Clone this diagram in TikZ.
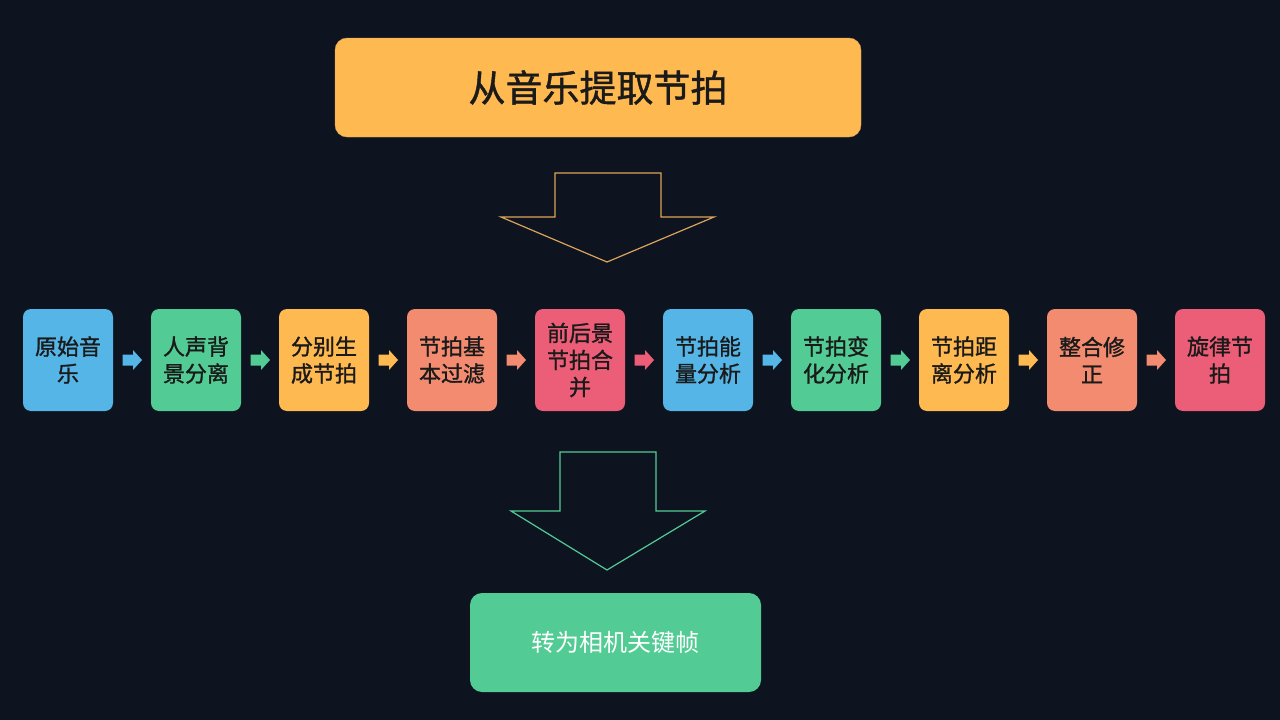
\documentclass[tikz,border=0pt]{standalone}
\usepackage{fontspec}
\setmainfont{Noto Sans CJK SC}
\newfontfamily\medfont[FakeBold=1.2]{Noto Sans CJK SC}
\usetikzlibrary{calc}
\definecolor{bgdark}{HTML}{0E1320}
\definecolor{cblue}{HTML}{54B5E6}
\definecolor{cgreen}{HTML}{52CC94}
\definecolor{corange}{HTML}{FFB951}
\definecolor{csalmon}{HTML}{F28B70}
\definecolor{cred}{HTML}{EC5D77}
\definecolor{goldline}{HTML}{DCA35A}
\definecolor{txtdark}{HTML}{1A1A1A}

\begin{document}
\begin{tikzpicture}[x=1pt, y=-1pt,
    stepbox/.style={rounded corners=8pt, minimum width=90pt, minimum height=102pt,
      inner sep=0pt, align=center, text=txtdark,
      font=\fontsize{22}{27}\medfont},
    smallarrow/.style={fill=#1}]
	    % background
	    \fill[bgdark] (0,0) rectangle (1280,720);
	    \useasboundingbox (0,0) rectangle (1280,720);

	    % title box
	    \node[fill=corange, draw=goldline, rounded corners=12pt, minimum width=526pt,
	      minimum height=99pt, text=txtdark, font=\fontsize{37}{40}\medfont]
	      (title) at (598,87.5) {从音乐提取节拍};

	    % big outline arrow under the title
	    \draw[goldline, line width=1.2pt] (555,173) -- (661,173) -- (661,217) -- (714,217)
	      -- (607,262) -- (501,217) -- (555,217) -- cycle;

	    % row of steps
	    \foreach \i/\c/\t in {1/cblue/原始音\\乐, 2/cgreen/人声背\\景分离, 3/corange/分别生\\成节拍,
	      4/csalmon/节拍基\\本过滤, 5/cred/前后景\\节拍合\\并, 6/cblue/节拍能\\量分析,
	      7/cgreen/节拍变\\化分析, 8/corange/节拍距\\离分析, 9/csalmon/整合修\\正, 10/cred/旋律节\\拍}
	      \node[stepbox, fill=\c] (s\i) at (68+128*\i-128,360) {\t};

	    % small arrows between steps
	    \foreach \i/\c in {1/cblue, 2/cgreen, 3/corange, 4/csalmon, 5/cred,
	      6/cblue, 7/cgreen, 8/corange, 9/csalmon}
	    {\pgfmathtruncatemacro{\j}{\i+1}
	      \coordinate (m\i) at ($(s\i.east)!0.5!(s\j.west)$);
	      \fill[smallarrow=\c] ($(m\i)+(-9.5,-5.5)$) -- ($(m\i)+(1,-5.5)$) -- ($(m\i)+(1,-10)$)
	        -- ($(m\i)+(10,0)$) -- ($(m\i)+(1,10)$) -- ($(m\i)+(1,5.5)$) -- ($(m\i)+(-9.5,5.5)$) -- cycle;
	    }

	    % big outline arrow above the result
	    \draw[cgreen, line width=1.2pt] (560,452) -- (656,452) -- (656,511) -- (705,511)
	      -- (607,570) -- (511,511) -- (560,511) -- cycle;

	    % result box
	    \node[fill=cgreen, rounded corners=12pt, minimum width=291pt, minimum height=99pt,
	      text=white, font=\fontsize{24}{28}\selectfont] (result) at (615.5,642.5) {转为相机关键帧};
	  \end{tikzpicture}
\end{document}
